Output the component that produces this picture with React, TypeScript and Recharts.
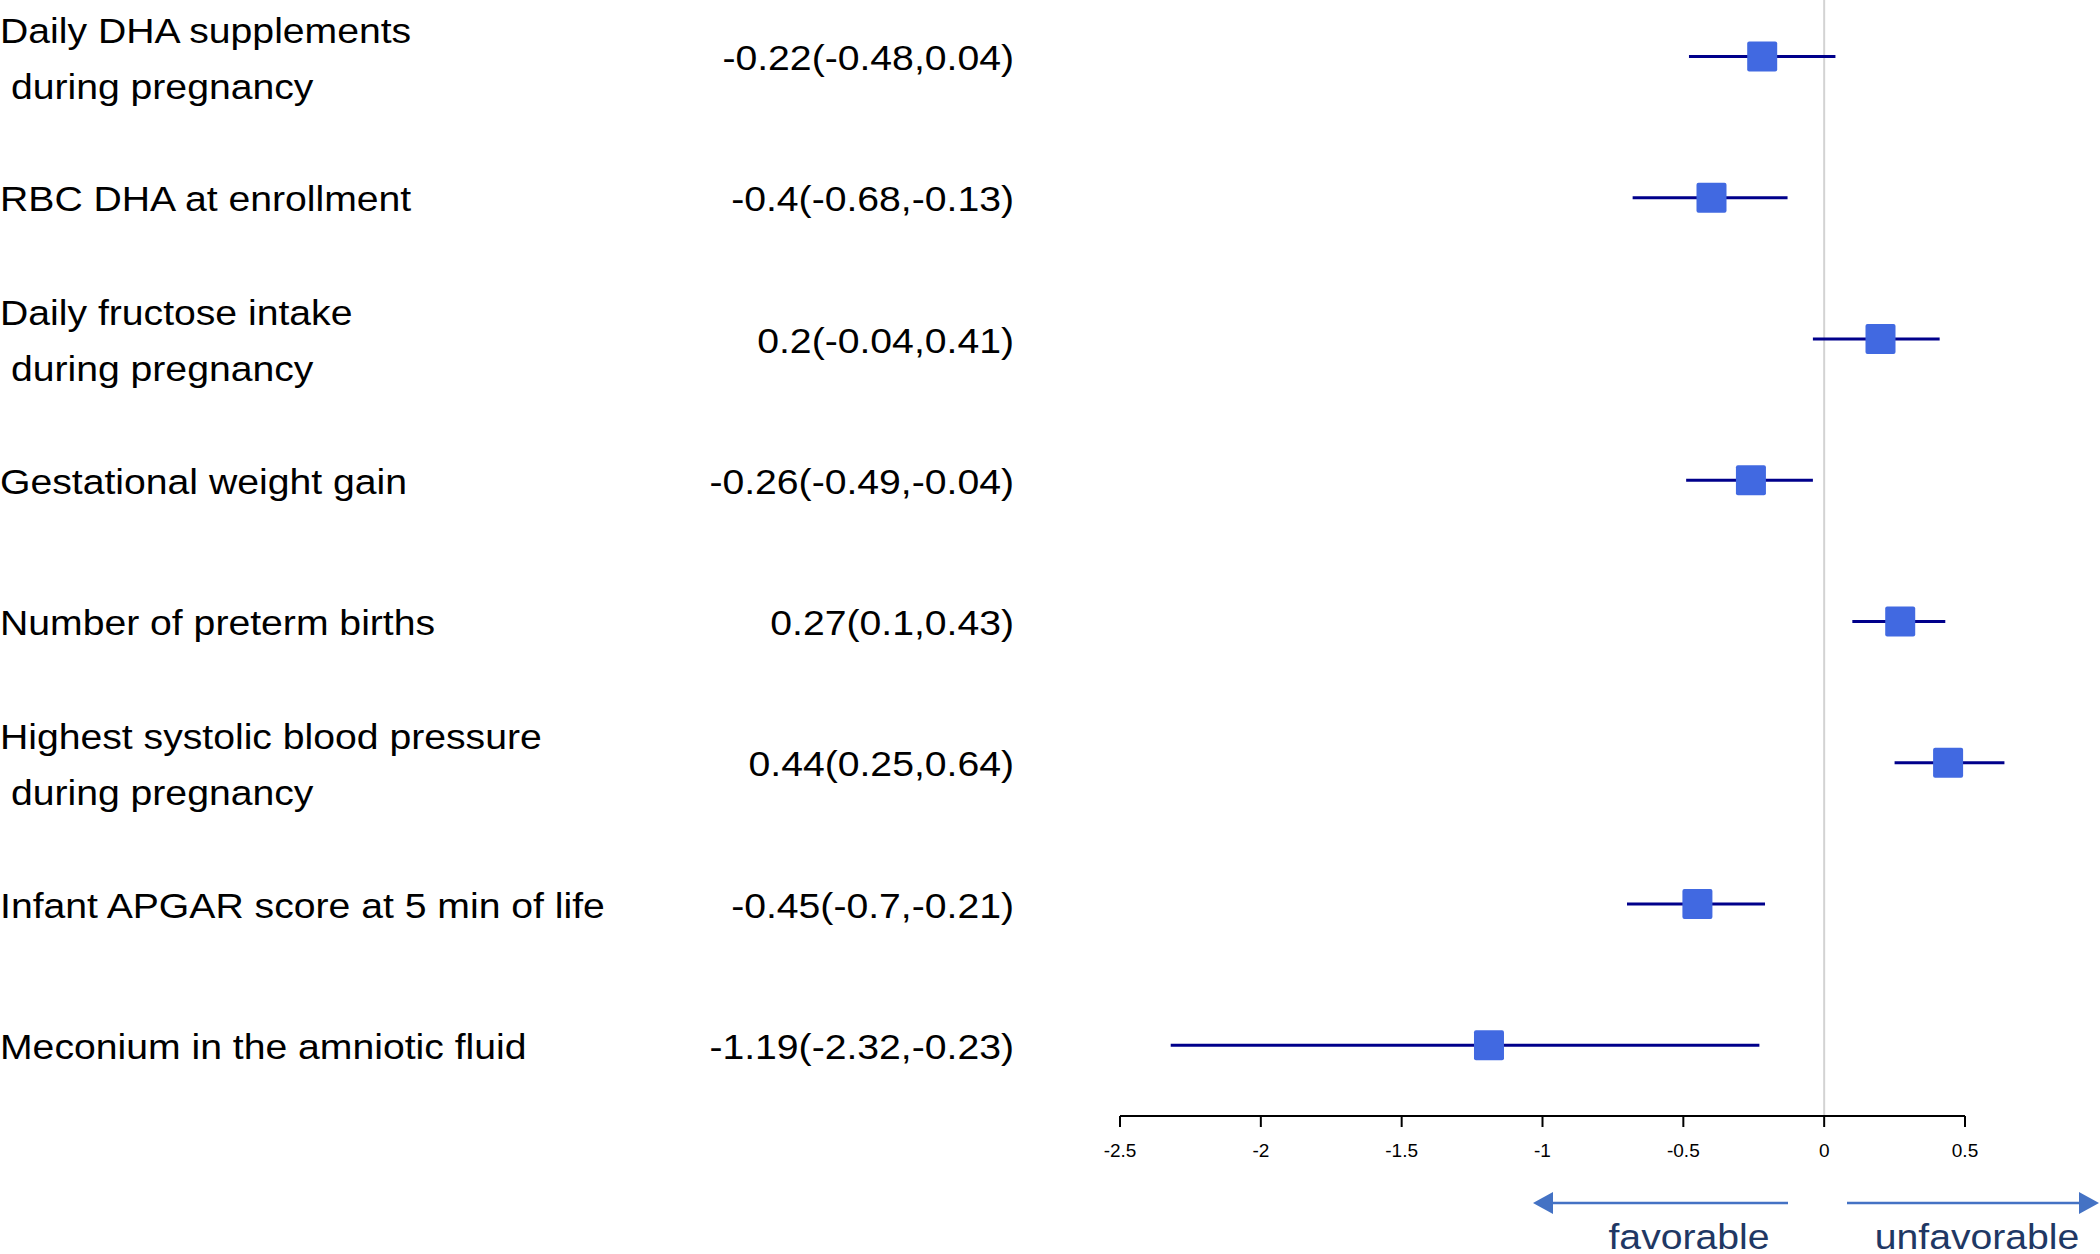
import React from 'react';
import {
  ScatterChart,
  Scatter,
  XAxis,
  YAxis,
  ErrorBar,
  ReferenceLine,
} from 'recharts';

const labels = [
  ['Daily DHA supplements', ' during pregnancy'],
  ['RBC DHA at enrollment'],
  ['Daily fructose intake', ' during pregnancy'],
  ['Gestational weight gain'],
  ['Number of preterm births'],
  ['Highest systolic blood pressure', ' during pregnancy'],
  ['Infant APGAR score at 5 min of life'],
  ['Meconium in the amniotic fluid'],
];
const estimates = [-0.22, -0.4, 0.2, -0.26, 0.27, 0.44, -0.45, -1.19];
const lower = [-0.48, -0.68, -0.04, -0.49, 0.1, 0.25, -0.7, -2.32];
const upper = [0.04, -0.13, 0.41, -0.04, 0.43, 0.64, -0.21, -0.23];
const xTicks = [-2.5, -2, -1.5, -1, -0.5, 0, 0.5];
const rows = labels.map((_, i) => i + 1);

const data = rows.map((row, i) => ({
  row,
  est: estimates[i],
  err: [estimates[i] - lower[i], upper[i] - estimates[i]],
}));

const FONT = '"Liberation Sans", Arial, sans-serif';
const FS = 34.5;
const SX = 1.135; // the source text is a little stretched sideways

function RowTick(props: any) {
  const { y, payload } = props;
  const i = payload.value - 1;
  const lines = labels[i];
  if (!lines) return null;
  const ci = `${estimates[i]}(${lower[i]},${upper[i]})`;
  const offsets = lines.length === 2 ? [-14, 42] : [13.5];
  return (
    <g>
      {lines.map((t, k) => (
        <text
          key={k}
          transform={`translate(0, ${y + offsets[k]}) scale(${SX}, 1)`}
          fontSize={FS}
          fontFamily={FONT}
          fill="#000"
          style={{ whiteSpace: 'pre' }}
        >
          {t}
        </text>
      ))}
      <text
        transform={`translate(1014, ${y + 13.5}) scale(${SX}, 1)`}
        textAnchor="end"
        fontSize={FS}
        fontFamily={FONT}
        fill="#000"
      >
        {ci}
      </text>
    </g>
  );
}

const Square = (props: any) => {
  const { cx, cy } = props;
  return (
    <rect x={cx - 15} y={cy - 15} width={30} height={30} rx={2} fill="#4169E1" />
  );
};

export default function App() {
  return (
    <div style={{ position: 'absolute', left: 0, top: 0, width: 2100, height: 1254, background: '#fff' }}>
      <ScatterChart
        width={2100}
        height={1254}
        margin={{ top: 0, right: 135, bottom: 78, left: 0 }}
      >
        <XAxis
          type="number"
          dataKey="est"
          domain={[-2.5, 0.5]}
          ticks={xTicks}
          allowDataOverflow
          height={60}
          axisLine={{ stroke: '#000', strokeWidth: 2 }}
          tickLine={{ stroke: '#000', strokeWidth: 2 }}
          tickSize={11}
          tickMargin={17}
          tick={{ fontSize: 19, fontFamily: FONT, fill: '#000' }}
        />
        <YAxis
          type="number"
          dataKey="row"
          domain={[0.6, 8.5]}
          ticks={rows}
          interval={0}
          reversed
          allowDataOverflow
          width={1120}
          axisLine={false}
          tickLine={false}
          tick={RowTick}
        />
        <ReferenceLine x={0} stroke="#D3D3D3" strokeWidth={2} />
        <Scatter data={data} shape={Square} isAnimationActive={false}>
          <ErrorBar
            dataKey="err"
            direction="x"
            width={0}
            stroke="#00008B"
            strokeWidth={3}
            isAnimationActive={false}
          />
        </Scatter>
      </ScatterChart>
      <svg
        width={2100}
        height={1254}
        style={{ position: 'absolute', left: 0, top: 0, pointerEvents: 'none' }}
      >
        <line x1={1550} y1={1203} x2={1788} y2={1203} stroke="#4472C4" strokeWidth={2.5} />
        <polygon points="1533,1203 1553,1192 1553,1214" fill="#4472C4" />
        <line x1={1847} y1={1203} x2={2080} y2={1203} stroke="#4472C4" strokeWidth={2.5} />
        <polygon points="2099,1203 2079,1192 2079,1214" fill="#4472C4" />
        <text
          transform={`translate(1689, 1249) scale(${SX}, 1)`}
          textAnchor="middle"
          fontSize={FS}
          fontFamily={FONT}
          fill="#1F3864"
        >
          favorable
        </text>
        <text
          transform={`translate(1977, 1249) scale(${SX}, 1)`}
          textAnchor="middle"
          fontSize={FS}
          fontFamily={FONT}
          fill="#1F3864"
        >
          unfavorable
        </text>
      </svg>
    </div>
  );
}
